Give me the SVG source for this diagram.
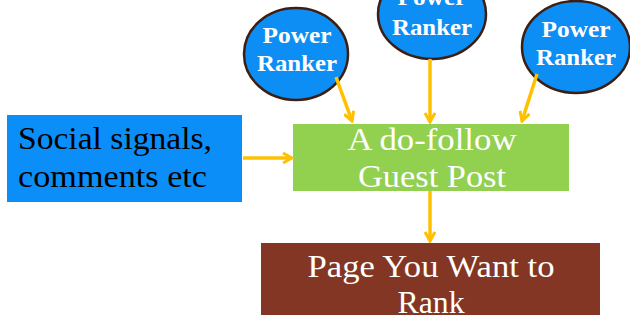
<svg xmlns="http://www.w3.org/2000/svg" width="630" height="315" viewBox="0 0 630 315">
<defs>
<style>
.pr{fill:#0c8ef5;stroke:#3c1f12;stroke-width:2.5}
.prt{font-family:"Liberation Serif",serif;font-weight:bold;font-size:23px;fill:#fff;text-anchor:middle}
.big{font-family:"Liberation Serif",serif;font-size:32px}
.c{stroke:#ffc000;stroke-width:3.5;fill:none}
</style>
<marker id="ah" viewBox="0 0 12 12" refX="10" refY="6" markerWidth="12" markerHeight="12" markerUnits="userSpaceOnUse" orient="auto">
<path d="M1,1 L10,6 L1,11" fill="none" stroke="#ffc000" stroke-width="3"/>
</marker>
</defs>
<rect width="630" height="315" fill="#fff"/>
<g id="social">
<rect x="7" y="115" width="235" height="87" fill="#0c8ef8"/>
<text class="big" x="18" y="149" fill="#000" textLength="194" lengthAdjust="spacingAndGlyphs">Social signals,</text>
<text class="big" x="18" y="187" fill="#000" textLength="189" lengthAdjust="spacingAndGlyphs">comments etc</text>
</g>
<g id="guest">
<rect x="293" y="124" width="276" height="67" fill="#92d050"/>
<text class="big" x="432" y="150" fill="#fff" text-anchor="middle" textLength="169" lengthAdjust="spacingAndGlyphs">A do-follow</text>
<text class="big" x="432" y="187" fill="#fff" text-anchor="middle" textLength="148" lengthAdjust="spacingAndGlyphs">Guest Post</text>
</g>
<g id="page">
<rect x="261" y="243" width="339" height="80" fill="#843624"/>
<text class="big" x="431" y="277" fill="#fff" text-anchor="middle" textLength="247" lengthAdjust="spacingAndGlyphs">Page You Want to</text>
<text class="big" x="431" y="313" fill="#fff" text-anchor="middle" textLength="67" lengthAdjust="spacingAndGlyphs">Rank</text>
</g>
<g id="pr1">
<ellipse class="pr" cx="296" cy="54" rx="52" ry="46"/>
<text class="prt" x="297" y="43" textLength="69" lengthAdjust="spacingAndGlyphs">Power</text>
<text class="prt" x="297" y="71" textLength="80" lengthAdjust="spacingAndGlyphs">Ranker</text>
</g>
<g id="pr2">
<ellipse class="pr" cx="432" cy="14" rx="54" ry="45"/>
<text class="prt" x="432" y="5" textLength="69" lengthAdjust="spacingAndGlyphs">Power</text>
<text class="prt" x="432" y="35" textLength="80" lengthAdjust="spacingAndGlyphs">Ranker</text>
</g>
<g id="pr3">
<ellipse class="pr" cx="576" cy="47" rx="54" ry="46"/>
<text class="prt" x="576" y="37" textLength="69" lengthAdjust="spacingAndGlyphs">Power</text>
<text class="prt" x="576" y="65" textLength="80" lengthAdjust="spacingAndGlyphs">Ranker</text>
</g>
<g id="connectors">
<line class="c" x1="336" y1="77" x2="352" y2="121" marker-end="url(#ah)"/>
<line class="c" x1="430" y1="59" x2="430" y2="122" marker-end="url(#ah)"/>
<line class="c" x1="537" y1="74" x2="522" y2="121" marker-end="url(#ah)"/>
<line class="c" x1="243" y1="158" x2="292" y2="158" marker-end="url(#ah)"/>
<line class="c" x1="430" y1="191" x2="430" y2="241" marker-end="url(#ah)"/>
</g>
</svg>
